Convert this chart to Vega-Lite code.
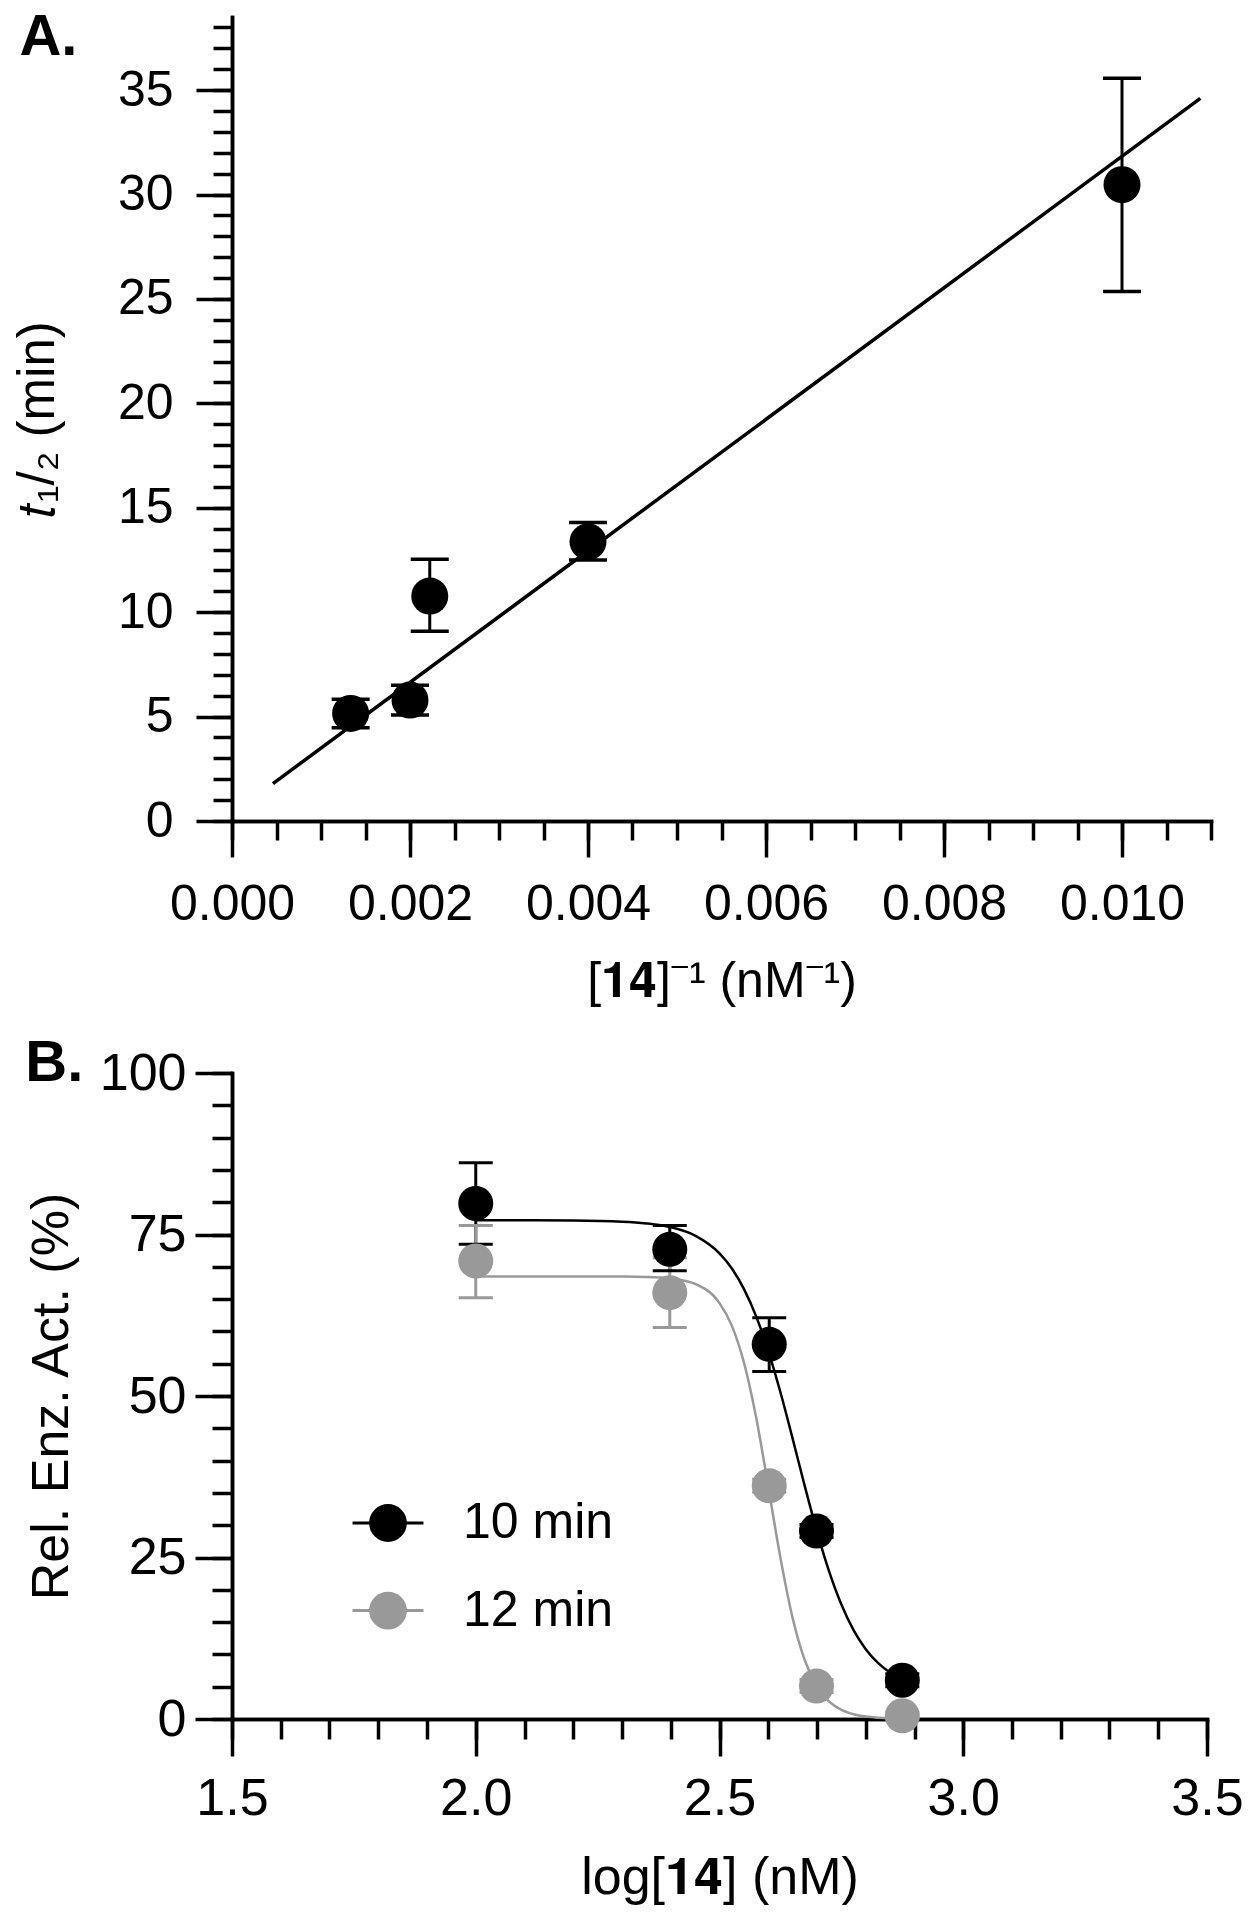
{
  "$schema": "https://vega.github.io/schema/vega-lite/v6.json",
  "background": "white",
  "padding": {"left": 12, "top": 9, "right": 5, "bottom": 5},
  "spacing": 29,
  "config": {
    "view": {"stroke": null},
    "font": "Liberation Sans",
    "axis": {
      "domainColor": "#000000", "domainWidth": 3.5, "tickColor": "#000000", "tickWidth": 3.5,
      "grid": false, "labelColor": "#000000", "titleColor": "#000000",
      "labelFont": "Liberation Sans", "titleFont": "Liberation Sans",
      "labelFlush": false, "labelOverlap": false, "labelBound": false,
      "titleFontWeight": "normal", "domainCap": "square"
    }
  },
  "datasets": {
    "fitA": [
      {"x": 0.00046, "y": 1.79},
      {"x": 0.01088, "y": 34.6}
    ],
    "ptsA": [
      {"x": 0.001333, "y": 5.15, "lo": 4.47, "hi": 5.83},
      {"x": 0.002, "y": 5.79, "lo": 5.07, "hi": 6.5},
      {"x": 0.002222, "y": 10.77, "lo": 9.09, "hi": 12.53},
      {"x": 0.004, "y": 13.37, "lo": 12.5, "hi": 14.29},
      {"x": 0.01, "y": 30.47, "lo": 25.35, "hi": 35.57}
    ],
    "ptsB": [
      {"series": "10 min", "logc": 2.0, "y": 79.8, "lo": 73.5, "hi": 86.1},
      {"series": "10 min", "logc": 2.398, "y": 72.7, "lo": 69.4, "hi": 76.4},
      {"series": "10 min", "logc": 2.602, "y": 58.0, "lo": 53.8, "hi": 62.1},
      {"series": "10 min", "logc": 2.699, "y": 29.1, "lo": 28.1, "hi": 30.1},
      {"series": "10 min", "logc": 2.875, "y": 6.0, "lo": 5.0, "hi": 7.0},
      {"series": "12 min", "logc": 2.0, "y": 70.9, "lo": 65.2, "hi": 76.4},
      {"series": "12 min", "logc": 2.398, "y": 66.0, "lo": 60.6, "hi": 71.4},
      {"series": "12 min", "logc": 2.602, "y": 36.1, "lo": 35.1, "hi": 37.1},
      {"series": "12 min", "logc": 2.699, "y": 5.1, "lo": 4.1, "hi": 6.1},
      {"series": "12 min", "logc": 2.875, "y": 0.5, "lo": 0.0, "hi": 1.0}
    ],
    "fitB": [
      {"series": "10 min", "logc": 2.0, "y": 77.2},
      {"series": "10 min", "logc": 2.1, "y": 77.19},
      {"series": "10 min", "logc": 2.2, "y": 77.16},
      {"series": "10 min", "logc": 2.3, "y": 76.99},
      {"series": "10 min", "logc": 2.35, "y": 76.72},
      {"series": "10 min", "logc": 2.4, "y": 76.13},
      {"series": "10 min", "logc": 2.45, "y": 74.83},
      {"series": "10 min", "logc": 2.5, "y": 72.07},
      {"series": "10 min", "logc": 2.525, "y": 69.77},
      {"series": "10 min", "logc": 2.55, "y": 66.59},
      {"series": "10 min", "logc": 2.575, "y": 62.37},
      {"series": "10 min", "logc": 2.6, "y": 57.0},
      {"series": "10 min", "logc": 2.625, "y": 50.58},
      {"series": "10 min", "logc": 2.65, "y": 43.41},
      {"series": "10 min", "logc": 2.675, "y": 36.03},
      {"series": "10 min", "logc": 2.7, "y": 29.0},
      {"series": "10 min", "logc": 2.725, "y": 22.81},
      {"series": "10 min", "logc": 2.75, "y": 17.72},
      {"series": "10 min", "logc": 2.775, "y": 13.75},
      {"series": "10 min", "logc": 2.8, "y": 10.81},
      {"series": "10 min", "logc": 2.825, "y": 8.68},
      {"series": "10 min", "logc": 2.85, "y": 7.19},
      {"series": "10 min", "logc": 2.875, "y": 6.16},
      {"series": "12 min", "logc": 2.0, "y": 68.5},
      {"series": "12 min", "logc": 2.1, "y": 68.5},
      {"series": "12 min", "logc": 2.2, "y": 68.5},
      {"series": "12 min", "logc": 2.3, "y": 68.48},
      {"series": "12 min", "logc": 2.35, "y": 68.42},
      {"series": "12 min", "logc": 2.4, "y": 68.19},
      {"series": "12 min", "logc": 2.45, "y": 67.35},
      {"series": "12 min", "logc": 2.5, "y": 64.37},
      {"series": "12 min", "logc": 2.525, "y": 60.93},
      {"series": "12 min", "logc": 2.55, "y": 55.22},
      {"series": "12 min", "logc": 2.575, "y": 46.74},
      {"series": "12 min", "logc": 2.6, "y": 36.01},
      {"series": "12 min", "logc": 2.625, "y": 24.94},
      {"series": "12 min", "logc": 2.65, "y": 15.63},
      {"series": "12 min", "logc": 2.675, "y": 9.07},
      {"series": "12 min", "logc": 2.7, "y": 5.01},
      {"series": "12 min", "logc": 2.725, "y": 2.68},
      {"series": "12 min", "logc": 2.75, "y": 1.41},
      {"series": "12 min", "logc": 2.775, "y": 0.74},
      {"series": "12 min", "logc": 2.8, "y": 0.38},
      {"series": "12 min", "logc": 2.825, "y": 0.2},
      {"series": "12 min", "logc": 2.85, "y": 0.1},
      {"series": "12 min", "logc": 2.875, "y": 0.05}
    ]
  },
  "vconcat": [
    {
      "width": 979,
      "height": 804,
      "title": {"text": "A.", "anchor": "start", "frame": "bounds", "fontSize": 58, "fontWeight": "bold", "font": "Liberation Sans", "color": "#000000", "offset": -58, "baseline": "alphabetic", "dy": 38, "dx": 7},
      "layer": [
        {
          "data": {"name": "fitA"},
          "mark": {"type": "line", "color": "#000000", "strokeWidth": 3.5},
          "encoding": {
            "x": {"field": "x", "type": "quantitative", "scale": {"domain": [0, 0.011], "nice": false, "zero": false},
              "axis": {"orient": "bottom", "values": [0, 0.0005, 0.001, 0.0015, 0.002, 0.0025, 0.003, 0.0035, 0.004, 0.0045, 0.005, 0.0055, 0.006, 0.0065, 0.007, 0.0075, 0.008, 0.0085, 0.009, 0.0095, 0.01, 0.0105, 0.011], "tickSize": 19, "labels": false, "title": null}},
            "y": {"field": "y", "type": "quantitative", "scale": {"domain": [0, 38.5], "nice": false, "zero": false},
              "axis": {"orient": "left", "values": [0, 1, 2, 3, 4, 5, 6, 7, 8, 9, 10, 11, 12, 13, 14, 15, 16, 17, 18, 19, 20, 21, 22, 23, 24, 25, 26, 27, 28, 29, 30, 31, 32, 33, 34, 35, 36, 37, 38], "tickSize": 19, "labels": false, "title": null}}
          }
        },
        {
          "data": {"name": "ptsA"},
          "mark": {"type": "rule", "color": "#000000", "strokeWidth": 3},
          "encoding": {
            "x": {"field": "x", "type": "quantitative", "axis": null},
            "y": {"field": "lo", "type": "quantitative", "axis": null},
            "y2": {"field": "hi"}
          }
        },
        {
          "data": {"name": "ptsA"},
          "mark": {"type": "tick", "orient": "horizontal", "color": "#000000", "size": 38, "thickness": 3.5, "opacity": 1},
          "encoding": {
            "x": {"field": "x", "type": "quantitative", "axis": null},
            "y": {"field": "hi", "type": "quantitative", "axis": null}
          }
        },
        {
          "data": {"name": "ptsA"},
          "mark": {"type": "tick", "orient": "horizontal", "color": "#000000", "size": 38, "thickness": 3.5, "opacity": 1},
          "encoding": {
            "x": {"field": "x", "type": "quantitative", "axis": null},
            "y": {"field": "lo", "type": "quantitative", "axis": null}
          }
        },
        {
          "data": {"name": "ptsA"},
          "mark": {"type": "point", "filled": true, "shape": "circle", "size": 1369, "color": "#000000", "opacity": 1},
          "encoding": {
            "x": {"field": "x", "type": "quantitative",
              "axis": {"orient": "bottom", "values": [0, 0.002, 0.004, 0.006, 0.008, 0.01], "format": ".3f", "tickSize": 36, "labelPadding": 22, "labelFontSize": 50, "title": "[𝟏𝟒]⁻¹  (nM⁻¹)", "titleFontSize": 50, "titlePadding": 27}},
            "y": {"field": "y", "type": "quantitative",
              "axis": {"orient": "left", "values": [0, 5, 10, 15, 20, 25, 30, 35], "format": "d", "tickSize": 36, "labelPadding": 23, "labelFontSize": 50, "title": "𝑡₁/₂  (min)", "titleFontSize": 51, "titlePadding": 53}}
          }
        }
      ],
      "resolve": {"axis": {"x": "independent", "y": "independent"}}
    },
    {
      "width": 975,
      "height": 646,
      "title": {"text": "B.", "anchor": "start", "frame": "bounds", "fontSize": 58, "fontWeight": "bold", "font": "Liberation Sans", "color": "#000000", "offset": -52, "baseline": "alphabetic", "dy": 40, "dx": 0},
      "layer": [
        {
          "data": {"name": "fitB"},
          "mark": {"type": "line", "strokeWidth": 2.5, "interpolate": "monotone"},
          "encoding": {
            "x": {"field": "logc", "type": "quantitative", "scale": {"domain": [1.5, 3.5], "nice": false, "zero": false},
              "axis": {"orient": "bottom", "values": [1.5, 1.6, 1.7, 1.8, 1.9, 2.0, 2.1, 2.2, 2.3, 2.4, 2.5, 2.6, 2.7, 2.8, 2.9, 3.0, 3.1, 3.2, 3.3, 3.4, 3.5], "tickSize": 20, "labels": false, "title": null}},
            "y": {"field": "y", "type": "quantitative", "scale": {"domain": [0, 100], "nice": false, "zero": false},
              "axis": {"orient": "left", "values": [0, 5, 10, 15, 20, 25, 30, 35, 40, 45, 50, 55, 60, 65, 70, 75, 80, 85, 90, 95, 100], "tickSize": 20, "labels": false, "title": null}},
            "color": {"field": "series", "type": "nominal", "scale": {"domain": ["10 min", "12 min"], "range": ["#000000", "#999999"]},
              "legend": {"orient": "none", "legendX": 119, "legendY": 1469, "title": null, "padding": 0,
                "symbolType": "M-1,0H1M-0.49,0A0.49,0.49,0,1,1,0.49,0A0.49,0.49,0,1,1,-0.49,0Z",
                "symbolSize": 5041, "symbolStrokeWidth": 3, "labelFontSize": 50, "labelFont": "Liberation Sans", "labelColor": "#000000", "labelOffset": 38, "rowPadding": 25.6,
                "encode": {"symbols": {"update": {"stroke": {"scale": "color", "field": "value"}, "fill": {"scale": "color", "field": "value"}, "opacity": {"value": 1}, "strokeWidth": {"value": 3}}}}}},
            "detail": {"field": "series"}
          }
        },
        {
          "data": {"name": "ptsB"},
          "mark": {"type": "rule", "strokeWidth": 3},
          "encoding": {
            "x": {"field": "logc", "type": "quantitative", "axis": null},
            "y": {"field": "lo", "type": "quantitative", "axis": null},
            "y2": {"field": "hi"},
            "color": {"field": "series", "type": "nominal"}
          }
        },
        {
          "data": {"name": "ptsB"},
          "mark": {"type": "tick", "orient": "horizontal", "size": 34, "thickness": 3, "opacity": 1},
          "encoding": {
            "x": {"field": "logc", "type": "quantitative", "axis": null},
            "y": {"field": "hi", "type": "quantitative", "axis": null},
            "color": {"field": "series", "type": "nominal"}
          }
        },
        {
          "data": {"name": "ptsB"},
          "mark": {"type": "tick", "orient": "horizontal", "size": 34, "thickness": 3, "opacity": 1},
          "encoding": {
            "x": {"field": "logc", "type": "quantitative", "axis": null},
            "y": {"field": "lo", "type": "quantitative", "axis": null},
            "color": {"field": "series", "type": "nominal"}
          }
        },
        {
          "data": {"name": "ptsB"},
          "mark": {"type": "point", "filled": true, "shape": "circle", "size": 1225, "opacity": 1},
          "encoding": {
            "x": {"field": "logc", "type": "quantitative",
              "axis": {"orient": "bottom", "values": [1.5, 2.0, 2.5, 3.0, 3.5], "format": ".1f", "tickSize": 37, "labelPadding": 17, "labelFontSize": 52, "title": "log[𝟏𝟒] (nM)", "titleFontSize": 52, "titlePadding": 28}},
            "y": {"field": "y", "type": "quantitative",
              "axis": {"orient": "left", "values": [0, 25, 50, 75, 100], "format": "d", "tickSize": 37, "labelPadding": 9, "labelFontSize": 52, "title": "Rel. Enz. Act. (%)", "titleFontSize": 52, "titlePadding": 21}},
            "color": {"field": "series", "type": "nominal"}
          }
        }
      ],
      "resolve": {"axis": {"x": "independent", "y": "independent"}}
    }
  ]
}
